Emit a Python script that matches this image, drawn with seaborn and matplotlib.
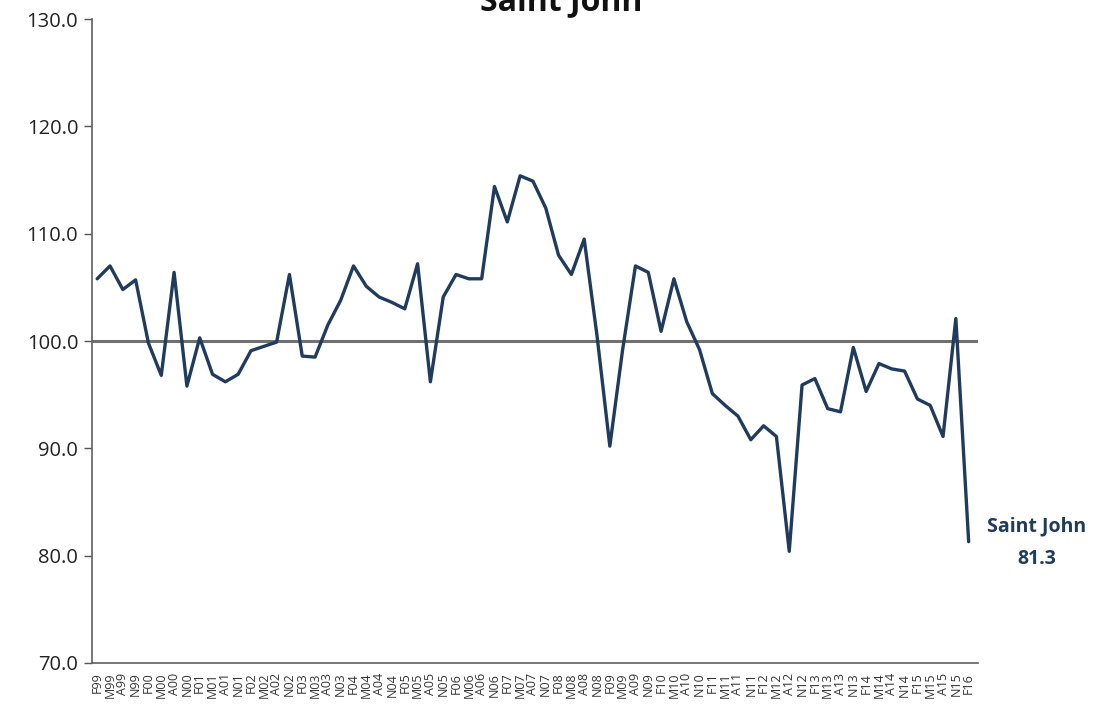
import matplotlib
matplotlib.use("Agg")
import seaborn as sns
from matplotlib import pyplot as plt
import pandas as pd

sns.set_style("white")
plt.rcParams["font.family"] = ["Open Sans", "DejaVu Sans"]

# period labels: F/M/A/N quarters, Feb 1999 .. Feb 2016
months = ["F", "M", "A", "N"]
years = ["99"] + [f"{y:02d}" for y in range(0, 16)]
periods = [m + y for y in years for m in months] + ["F16"]

saint_john = [
    105.8, 107.0, 104.8, 105.7, 99.8, 96.8, 106.4, 95.8,
    100.3, 96.9, 96.2, 96.9, 99.1, 99.5, 99.9, 106.2,
    98.6, 98.5, 101.5, 103.8, 107.0, 105.1, 104.1, 103.6,
    103.0, 107.2, 96.2, 104.1, 106.2, 105.8, 105.8, 114.4,
    111.1, 115.4, 114.9, 112.4, 108.0, 106.2, 109.5, 100.5,
    90.2, 99.2, 107.0, 106.4, 100.9, 105.8, 101.8, 99.2,
    95.1, 94.0, 93.0, 90.8, 92.1, 91.1, 80.4, 95.9,
    96.5, 93.7, 93.4, 99.4, 95.3, 97.9, 97.4, 97.2,
    94.6, 94.0, 91.1, 102.1, 81.3,
]

df = pd.DataFrame({"period": periods, "index": saint_john})
df["pos"] = range(len(df))

navy = "#1f3b5e"

fig = plt.figure(figsize=(10.96, 7.09), dpi=100)
ax = fig.add_axes([0.084, 0.065, 0.808, 0.908])

ax.plot([-0.4, 68.7], [100, 100], color="#707070", lw=2.2, zorder=1)
sns.lineplot(data=df, x="pos", y="index", color=navy, lw=2.4, ax=ax, zorder=2)

ax.set_xlim(-0.4, 68.7)
ax.set_ylim(70, 130)
ax.set_yticks(range(70, 131, 10))
ax.set_yticklabels([f"{v:.1f}" for v in range(70, 131, 10)], fontsize=14.5, color="#222222")
ax.set_xticks(df["pos"])
ax.set_xticklabels(df["period"], rotation=90, fontsize=9, color="#333333")
ax.tick_params(axis="y", length=6, width=1, color="#555555", direction="out", left=True, pad=4)
ax.tick_params(axis="x", length=0, pad=7)
ax.set_xlabel("")
ax.set_ylabel("")

for side in ["top", "right"]:
    ax.spines[side].set_visible(False)
for side in ["left", "bottom"]:
    ax.spines[side].set_color("#606060")
    ax.spines[side].set_linewidth(1.2)

# title sits partly above the top edge, as in the original image
fig.text(0.512, 0.986, "Saint John", ha="center", va="baseline", fontsize=23, fontweight="bold", color="#111111")

last = df.iloc[-1]
ax.annotate(f"Saint John\n{last['index']:.1f}", xy=(last["pos"], last["index"]),
            xytext=(49, -1), textcoords="offset points", ha="center", va="center",
            fontsize=14, fontweight="bold", color=navy, linespacing=1.85)

plt.savefig("out.png", dpi=100)
